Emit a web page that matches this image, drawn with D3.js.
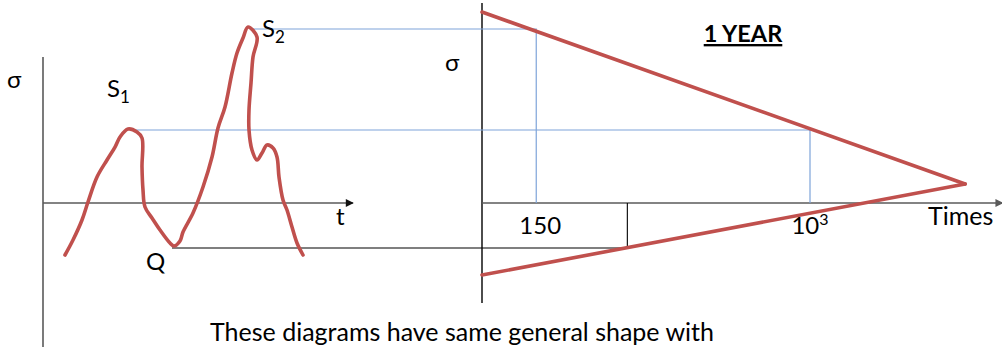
<!DOCTYPE html>
<html>
<head>
<meta charset="utf-8">
<script src="https://cdn.jsdelivr.net/npm/d3@7"></script>
<style>
  body { margin: 0; background: #fff; }
  svg { display: block; }
  text { font-family: Lato, "Open Sans", sans-serif; fill: #000; }
</style>
</head>
<body>
<svg id="chart" width="1002" height="347"></svg>
<script>
// Stress-time trace (left panel): time t and stress sigma
const traceT = [22, 30, 39, 45, 54, 64, 72, 77, 85, 94, 99, 99, 100, 102, 109, 117, 127, 131, 137, 140,
                150, 160, 169, 175, 182, 189, 194, 200, 205, 214, 210, 208, 206, 206, 209, 214, 219,
                224, 230, 234, 236, 240, 244, 249, 254, 260];
const traceSigma = [-52, -37, -17, 1, 26, 43, 56, 66, 74, 71, 65, 36, 13, -4, -15, -27, -40, -43, -38, -29,
                    -10, 16, 46, 75, 96, 130, 150, 165, 176, 166, 146, 120, 93, 73, 53, 43, 50,
                    58, 55, 46, 26, 3, -7, -24, -40, -52];

// Reference stress levels carried across to the cycle diagram
const levelNames = ["S1", "S2", "Q"];
const levelSigma = [73, 174, -45];
const levelStartT = [90, 210, 129];
const levelCycles = [1000, 150, 282];

// Cycle diagram envelope (right panel): cycles vs upper / lower stress
const envCycles = [103, 2930];
const envUpper = [191, 19];
const envLower = [-72, 19];

// Tick labels on the cycle axis
const tickValues = [150, 1000];
const tickBase = ["150", "10"];
const tickExp = ["", "3"];

const svg = d3.select("#chart");

const y = d3.scaleLinear().domain([-100, 200]).range([303, 3]);
const xL = d3.scaleLinear().domain([0, 310]).range([43, 353]);
const xR = d3.scaleLog().domain([103, 1000]).range([482, 810]);

const red = "#c0504d", blue = "#7ea4d9", grey = "#5a5a5a";

// arrow heads
const defs = svg.append("defs");
function arrow(id, color) {
  defs.append("marker").attr("id", id)
    .attr("viewBox", "0 0 10 10").attr("refX", 9).attr("refY", 5)
    .attr("markerWidth", 9).attr("markerHeight", 8)
    .attr("markerUnits", "userSpaceOnUse").attr("orient", "auto")
    .append("path").attr("d", "M0,0 L10,5 L0,10 Z").attr("fill", color);
}
arrow("arrL", "#111");
arrow("arrR", grey);

// ---- left panel axes
svg.append("line")
  .attr("x1", xL(0)).attr("x2", xL(0)).attr("y1", y(146)).attr("y2", y(-150))
  .attr("stroke", "#333").attr("stroke-width", 1.3);
svg.append("line")
  .attr("x1", xL(0)).attr("x2", xL(310)).attr("y1", y(0)).attr("y2", y(0))
  .attr("stroke", grey).attr("stroke-width", 1.6).attr("marker-end", "url(#arrL)");

// ---- right panel axes
svg.append("line")
  .attr("x1", xR(103)).attr("x2", xR(103)).attr("y1", y(200)).attr("y2", y(-100))
  .attr("stroke", "#000").attr("stroke-width", 1.4);
svg.append("line")
  .attr("x1", xR(103)).attr("x2", xR(3800)).attr("y1", y(0)).attr("y2", y(0))
  .attr("stroke", grey).attr("stroke-width", 1.6).attr("marker-end", "url(#arrR)");

// ---- guides from the trace levels to the cycle axis
levelNames.forEach((name, i) => {
  const col = name === "Q" ? "#000" : blue;
  const xs = xL(levelStartT[i]), xe = xR(levelCycles[i]);
  svg.append("path")
    .attr("d", `M${xs},${y(levelSigma[i])} H${xe} V${y(0)}`)
    .attr("fill", "none").attr("stroke", col).attr("stroke-width", name === "Q" ? 1.1 : 1.2);
});

// ---- envelope lines
const envLine = d3.line().x(d => xR(d[0])).y(d => y(d[1]));
[envUpper, envLower].forEach(vals => {
  svg.append("path")
    .datum(envCycles.map((c, i) => [c, vals[i]]))
    .attr("d", envLine)
    .attr("fill", "none").attr("stroke", red).attr("stroke-width", 3.6)
    .attr("stroke-linecap", "round").attr("stroke-linejoin", "miter");
});

// ---- stress-time trace
const trace = d3.line()
  .x(d => xL(d[0])).y(d => y(d[1]))
  .curve(d3.curveCatmullRom.alpha(0.5));
svg.append("path")
  .datum(traceT.map((t, i) => [t, traceSigma[i]]))
  .attr("d", trace)
  .attr("fill", "none").attr("stroke", red).attr("stroke-width", 3.6)
  .attr("stroke-linecap", "round").attr("stroke-linejoin", "round");

// ---- labels
function label(x, yy, txt, size, opts = {}) {
  const t = svg.append("text").attr("x", x).attr("y", yy)
    .attr("font-size", size).attr("text-anchor", opts.anchor || "start");
  if (opts.bold) t.attr("font-weight", "bold");
  if (opts.underline) t.attr("text-decoration", "underline");
  t.text(txt);
  return t;
}
function subLabel(x, yy, main, sub) {
  const t = svg.append("text").attr("x", x).attr("y", yy).attr("font-size", 24);
  t.append("tspan").text(main);
  t.append("tspan").attr("font-size", 17).attr("dy", 6).text(sub);
}

label(7, 88, "σ", 24);
label(445, 71, "σ", 24);
subLabel(107, 97, "S", "1");
subLabel(262, 37, "S", "2");
label(146, 270, "Q", 24);
label(336, 225, "t", 24);
label(928, 225, "Times", 25);
label(743, 42, "1 YEAR", 23.5, {bold: true, underline: true, anchor: "middle"});

tickValues.forEach((v, i) => {
  const t = svg.append("text").attr("x", xR(v) + (tickExp[i] ? 0 : 4)).attr("y", 234)
    .attr("font-size", 24).attr("text-anchor", "middle");
  t.append("tspan").text(tickBase[i]);
  if (tickExp[i]) t.append("tspan").attr("font-size", 16).attr("dy", -9).text(tickExp[i]);
});

label(462, 341, "These diagrams have same general shape with", 25, {anchor: "middle"});
</script>
</body>
</html>
